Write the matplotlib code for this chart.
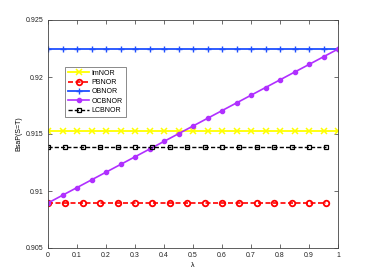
import numpy as np
import matplotlib
matplotlib.use("Agg")
import matplotlib.pyplot as plt

# Data
lam_a = [round(0.05 * i, 2) for i in range(21)]          # 0..1 step 0.05
lam_b = [round(0.06 * i, 2) for i in range(17)]          # 0..0.96 step 0.06
imnor = [0.91525] * len(lam_a)
obnor = [0.92245] * len(lam_a)
pbnor = [0.90895] * len(lam_b)
lcbnor = [0.9139] * len(lam_b)
ocb_start, ocb_end = 0.90895, 0.92245
ocbnor = [ocb_start + (ocb_end - ocb_start) * l for l in lam_a]

xticks = [0, 0.1, 0.2, 0.3, 0.4, 0.5, 0.6, 0.7, 0.8, 0.9, 1]
xticklabels = ["0", "0.1", "0.2", "0.3", "0.4", "0.5", "0.6", "0.7", "0.8", "0.9", "1"]
yticks = [0.905, 0.91, 0.915, 0.92, 0.925]
yticklabels = ["0.905", "0.91", "0.915", "0.92", "0.925"]

plt.rcParams['font.family'] = ['Liberation Sans', 'DejaVu Sans']
fig = plt.figure(figsize=(3.74, 2.80), dpi=100)
ax = fig.add_axes([48/374, 1 - 248/280, 290/374, 228/280])

ax.plot(lam_a, imnor, color='#ffff00', lw=1.3, marker='x', ms=4.5, mew=1.1, label='ImNOR')
ax.plot(lam_b, pbnor, color='#ff0000', lw=1.2, ls=(0, (3, 1.5)), marker='o', ms=4, mfc='none', mew=1.3, label='PBNOR')
ax.plot(lam_a, obnor, color='#1f4fff', lw=1.3, marker='+', ms=4.5, mew=1.0, label='OBNOR')
ax.plot(lam_a, ocbnor, color='#b030ff', lw=1.2, marker='o', ms=3, label='OCBNOR')
ax.plot(lam_b, lcbnor, color='#000000', lw=1.0, ls=(0, (3, 1.5)), marker='s', ms=3, mfc='none', mew=0.9, label='LCBNOR')

ax.set_xlim(0, 1)
ax.set_ylim(0.905, 0.925)
ax.set_xticks(xticks)
ax.set_xticklabels(xticklabels)
ax.set_yticks(yticks)
ax.set_yticklabels(yticklabels)
ax.tick_params(direction='in', length=3, width=0.5, labelsize=5, top=True, right=True,
               colors='#333333', labelcolor='#222222', pad=3)
for s in ax.spines.values():
    s.set_linewidth(0.6)
    s.set_color('#444444')
ax.set_xlabel('λ', fontsize=5, labelpad=2)
ax.set_ylabel('BsaP(S=T)', fontsize=5, labelpad=3)

leg = ax.legend(loc='upper left', bbox_to_anchor=(0.06, 0.795), fontsize=5, frameon=True,
                fancybox=False, edgecolor='#333333', borderpad=0.4, labelspacing=0.35,
                handlelength=3.0, handletextpad=0.4, borderaxespad=0)
leg.get_frame().set_linewidth(0.5)

fig.savefig('out.png', dpi=100)
